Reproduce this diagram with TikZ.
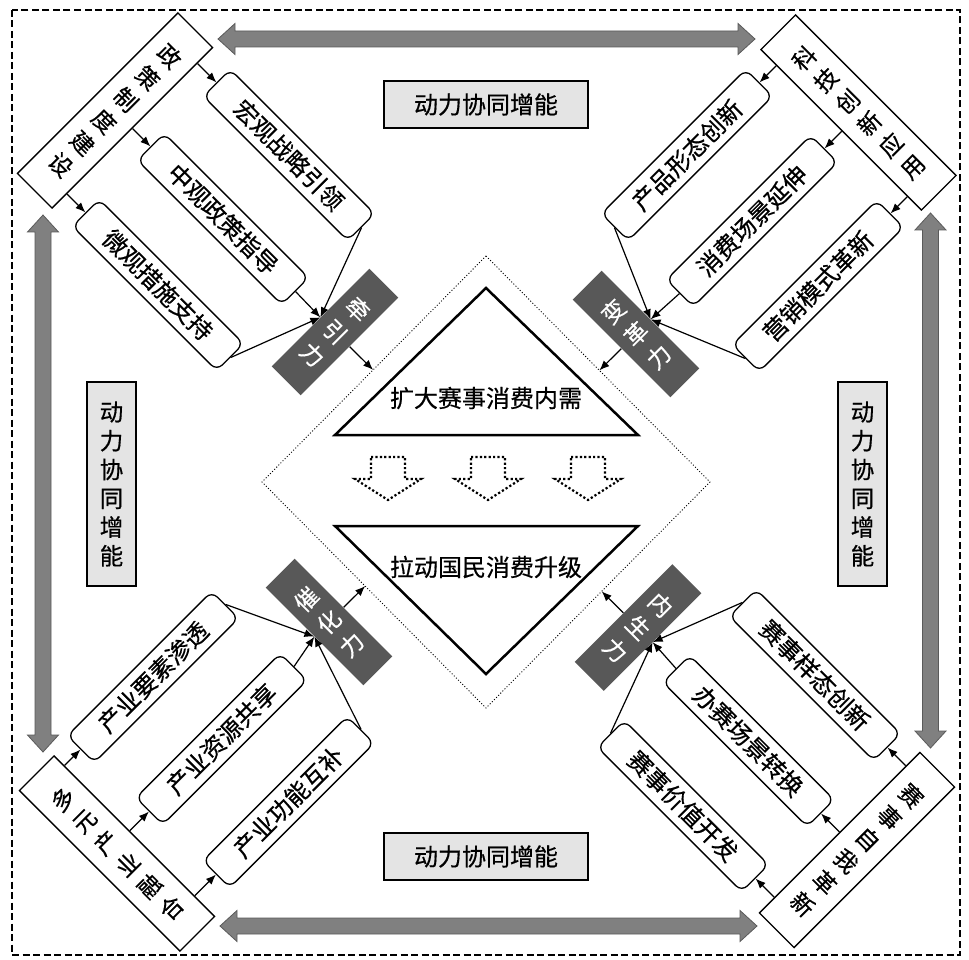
\documentclass[tikz,border=0pt]{standalone}
\usepackage{fontspec}
\setmainfont{Noto Sans CJK SC}[FakeBold=0.5]
\usetikzlibrary{calc,arrows.meta}
\definecolor{lightg}{HTML}{E4E4E4}
\definecolor{darkg}{HTML}{585858}
\definecolor{arrg}{HTML}{808080}
\definecolor{arrb}{HTML}{5A5A5A}
\newcommand{\HDArrow}[3]{\draw[bigarr] (#1,#3) -- (#1+17,#3-15.5) -- (#1+17,#3-8) -- (#2-17,#3-8) -- (#2-17,#3-15.5) -- (#2,#3) -- (#2-17,#3+15.5) -- (#2-17,#3+8) -- (#1+17,#3+8) -- (#1+17,#3+15.5) -- cycle;}
\newcommand{\VDArrow}[3]{\draw[bigarr] (#1,#2) -- (#1+15.5,#2+17) -- (#1+8,#2+17) -- (#1+8,#3-17) -- (#1+15.5,#3-17) -- (#1,#3) -- (#1-15.5,#3-17) -- (#1-8,#3-17) -- (#1-8,#2+17) -- (#1-15.5,#2+17) -- cycle;}
\begin{document}
\begin{tikzpicture}[x=1pt,y=-1pt,
  every node/.style={inner sep=0pt},
  corner/.style={draw, line width=1.3pt, fill=white, minimum width=49pt, minimum height=227pt, align=center, font=\fontsize{23}{30.7}\selectfont},
  rbox/.style={draw, line width=1.3pt, fill=white, rounded corners=8pt, minimum width=204pt, minimum height=38pt, font=\fontsize{24}{24}\selectfont},
  force/.style={fill=darkg, text=white, minimum width=41pt, minimum height=138pt, align=center, font=\fontsize{23}{32}\selectfont},
  synh/.style={draw, line width=1.3pt, fill=lightg, minimum width=204pt, minimum height=47pt, font=\fontsize{24}{24}\selectfont},
  synv/.style={draw, line width=1.3pt, fill=lightg, minimum width=49pt, minimum height=204pt, align=center, font=\fontsize{23.5}{28.8}\selectfont},
  conn/.style={line width=1.2pt, -{Latex[length=10pt,width=8pt]}},
  bigarr/.style={fill=arrg, draw=arrb, line width=0.8pt},
  blockarr/.style={draw, line width=2.2pt, dash pattern=on 2.2pt off 2.2pt},
  tri/.style={draw, line width=2.5pt, line join=miter},
  ctext/.style={font=\fontsize{24}{24}\selectfont}
]
\useasboundingbox (0,0) rectangle (969,960);
\fill[white] (0,0) rectangle (969,960);
% outer frame
\draw[line width=2pt, dash pattern=on 7pt off 3.5pt] (12,10) rectangle (960,955);

% big gray arrows
\HDArrow{218}{755}{39}
\HDArrow{220}{757}{926}
\VDArrow{43}{215}{752}
\VDArrow{930.5}{213}{748}

% synergy boxes
\node[synh] (s1) at (486,104.5) {动力协同增能};
\node[synh] (s2) at (486,856.5) {动力协同增能};
\node[synv] (s3) at (111.5,484) {动\\力\\协\\同\\增\\能};
\node[synv] (s4) at (862.5,484) {动\\力\\协\\同\\增\\能};

% central diamond
\coordinate (dT) at (486,256);
\coordinate (dL) at (262,482);
\coordinate (dR) at (710,482);
\coordinate (dB) at (486,708);
\draw[line width=0.9pt, dash pattern=on 1pt off 2pt] (dT) -- (dR) -- (dB) -- (dL) -- cycle;
\draw[tri] (486,288) -- (638,435) -- (335,435) -- cycle;
\draw[tri] (335,526) -- (638,526) -- (486,674) -- cycle;
\node[ctext] (t1) at (486,398) {扩大赛事消费内需};
\node[ctext] (t2) at (486,567) {拉动国民消费升级};
\foreach \bx in {388,488,588}
  \draw[blockarr] (\bx-17,457) -- (\bx+17,457) -- (\bx+17,479) -- (\bx+33,479) -- (\bx,500) -- (\bx-33,479) -- (\bx-17,479) -- cycle;

% top-left quadrant
\node[corner, rotate=-45] (zc) at (115,110.5) {政\\策\\制\\度\\建\\设};
\node[rbox, rotate=-45] (hg) at (289,155) {宏观战略引领};
\node[rbox, rotate=-45] (zg) at (223,219) {中观政策指导};
\node[rbox, rotate=-45] (wg) at (158,285) {微观措施支持};
\node[force, rotate=-45] (qyl) at (335,332) {牵\\引\\力};
\foreach \r in {hg,zg,wg} {
  \draw[conn] ($(zc.north east)!(\r.west)!(zc.south east)$) -- (\r.west);
  \draw[conn] (\r.east) -- (qyl.west);
}
\draw[conn] (qyl.east) -- ($(dL)!(qyl.east)!(dT)$);

% top-right quadrant
\node[corner, rotate=45] (kj) at (858.5,112.5) {科\\技\\创\\新\\应\\用};
\node[rbox, rotate=45] (cp) at (687,155) {产品形态创新};
\node[rbox, rotate=45] (xf) at (752,221) {消费场景延伸};
\node[rbox, rotate=45] (yx) at (818,286) {营销模式革新};
\node[force, rotate=45] (bgl) at (636,334) {变\\革\\力};
\foreach \r in {cp,xf,yx} {
  \draw[conn] ($(kj.north west)!(\r.east)!(kj.south west)$) -- (\r.east);
  \draw[conn] (\r.west) -- (bgl.east);
}
\draw[conn] (bgl.west) -- ($(dT)!(bgl.west)!(dR)$);

% bottom-left quadrant
\node[corner, rotate=45] (dy) at (117,853.5) {多\\元\\产\\业\\融\\合};
\node[rbox, rotate=45] (ys) at (153,677) {产业要素渗透};
\node[rbox, rotate=45] (zy) at (221.5,739) {产业资源共享};
\node[rbox, rotate=45] (gn) at (288.5,802) {产业功能互补};
\node[force, rotate=45] (chl) at (329,622) {催\\化\\力};
\foreach \r in {ys,zy,gn} {
  \draw[conn] ($(dy.north east)!(\r.west)!(dy.south east)$) -- (\r.west);
  \draw[conn] (\r.east) -- (chl.west);
}
\draw[conn] (chl.east) -- ($(dL)!(chl.east)!(dB)$);

% bottom-right quadrant
\node[corner, rotate=-45] (zw) at (857,850) {赛\\事\\自\\我\\革\\新};
\node[rbox, rotate=-45] (yt) at (815,675) {赛事样态创新};
\node[rbox, rotate=-45] (bs) at (748.5,741) {办赛场景转换};
\node[rbox, rotate=-45] (jz) at (683,806) {赛事价值开发};
\node[force, rotate=-45] (nsl) at (638,627.5) {内\\生\\力};
\foreach \r in {yt,bs,jz} {
  \draw[conn] ($(zw.north west)!(\r.east)!(zw.south west)$) -- (\r.east);
  \draw[conn] (\r.west) -- (nsl.east);
}
\draw[conn] (nsl.west) -- ($(dR)!(nsl.west)!(dB)$);
\end{tikzpicture}
\end{document}
